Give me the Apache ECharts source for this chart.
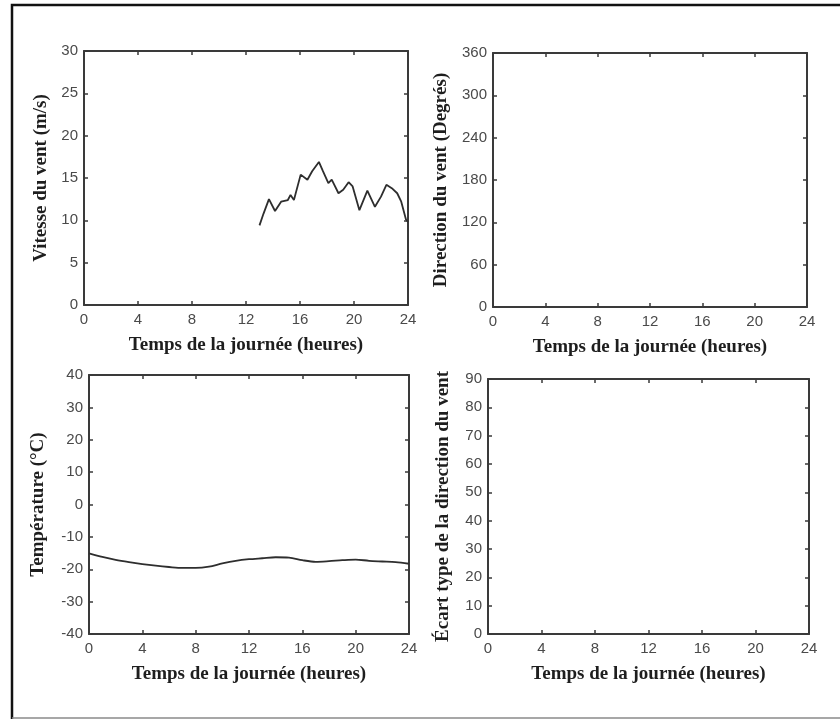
<!DOCTYPE html>
<html>
<head>
<meta charset="utf-8">
<script src="https://cdn.jsdelivr.net/npm/echarts@6/dist/echarts.min.js"></script>
<style>
html,body{margin:0;padding:0;background:#fff;}
#chart{width:840px;height:721px;}
</style>
</head>
<body>
<div id="chart"></div>
<script>
// ---- data ----
const hourTicks = [0, 4, 8, 12, 16, 20, 24];
const xTitle = 'Temps de la journée (heures)';

const windHours = [13.0, 13.3, 13.7, 14.15, 14.6, 15.1, 15.3, 15.55, 16.05, 16.55, 16.9, 17.4, 17.7, 18.1, 18.35, 18.85, 19.2, 19.6, 19.9, 20.4, 20.99, 21.55, 22.0, 22.4, 22.8, 23.2, 23.5, 23.85, 24.0];
const windSpeed = [9.4, 10.8, 12.5, 11.1, 12.2, 12.4, 13.0, 12.4, 15.4, 14.8, 15.8, 16.9, 15.8, 14.4, 14.8, 13.2, 13.6, 14.5, 14.0, 11.2, 13.5, 11.6, 12.8, 14.2, 13.8, 13.2, 12.2, 10.1, 9.8];

const tempHours = [0, 1, 2, 3, 4, 5, 6, 7, 8, 9, 10, 11, 12, 13, 14, 15, 16, 17, 18, 19, 20, 21, 22, 23, 24];
const temperature = [-15.1, -16.2, -17.1, -17.8, -18.4, -18.9, -19.3, -19.6, -19.6, -19.2, -18.2, -17.4, -16.9, -16.6, -16.3, -16.4, -17.2, -17.7, -17.5, -17.2, -17.0, -17.4, -17.6, -17.8, -18.3];

const dirHours = [];
const dirValues = [];
const stdHours = [];
const stdValues = [];

const panels = [
  {yTitle: 'Vitesse du vent (m/s)', yMin: 0, yMax: 30, yInt: 5, grid: {left: 84, top: 51, width: 324, height: 254}, yGap: 33},
  {yTitle: 'Direction du vent (Degrés)', yMin: 0, yMax: 360, yInt: 60, grid: {left: 493, top: 53, width: 314, height: 254}, yGap: 42},
  {yTitle: 'Température (°C)', yMin: -40, yMax: 40, yInt: 10, grid: {left: 89, top: 375, width: 320, height: 259}, yGap: 41},
  {yTitle: 'Écart type de la direction du vent', yMin: 0, yMax: 90, yInt: 10, grid: {left: 488, top: 379, width: 321, height: 255}, yGap: 35}
];

// ---- styles ----
const axisColor = '#3a3a3a';
const labelStyle = {color: '#4a4a4a', fontFamily: 'Liberation Sans', fontSize: 15};
const titleStyle = {color: '#1e1e1e', fontFamily: 'Liberation Serif', fontWeight: 'bold', fontSize: 19};

const grids = [], xAxes = [], yAxes = [];
panels.forEach((p, i) => {
  grids.push(Object.assign({containLabel: false}, p.grid));
  const common = {
    gridIndex: i,
    axisLine: {show: true, onZero: false, lineStyle: {color: axisColor, width: 2}},
    axisTick: {show: true, inside: true, length: 4, lineStyle: {color: axisColor, width: 1.5}},
    splitLine: {show: false}
  };
  xAxes.push(Object.assign({}, common, {
    type: 'value', position: 'bottom', min: 0, max: 24, interval: 4,
    axisLabel: Object.assign({margin: 7}, labelStyle),
    name: xTitle, nameLocation: 'middle', nameGap: 31, nameTextStyle: titleStyle
  }));
  xAxes.push(Object.assign({}, common, {
    type: 'value', position: 'top', min: 0, max: 24, interval: 4,
    axisLabel: {show: false}
  }));
  yAxes.push(Object.assign({}, common, {
    type: 'value', position: 'left', min: p.yMin, max: p.yMax, interval: p.yInt,
    axisLabel: Object.assign({margin: 6}, labelStyle),
    name: p.yTitle, nameLocation: 'middle', nameGap: p.yGap, nameTextStyle: titleStyle
  }));
  yAxes.push(Object.assign({}, common, {
    type: 'value', position: 'right', min: p.yMin, max: p.yMax, interval: p.yInt,
    axisLabel: {show: false}
  }));
});

const lineStyle = {color: '#2e2e2e', width: 1.8};
const zip = (a, b) => a.map((v, k) => [v, b[k]]);

const series = [
  {type: 'line', xAxisIndex: 0, yAxisIndex: 0, data: zip(windHours, windSpeed), showSymbol: false, lineStyle: lineStyle},
  {type: 'line', xAxisIndex: 2, yAxisIndex: 2, data: zip(dirHours, dirValues), showSymbol: false, lineStyle: lineStyle},
  {type: 'line', xAxisIndex: 4, yAxisIndex: 4, data: zip(tempHours, temperature), showSymbol: false, smooth: 0.3, lineStyle: lineStyle},
  {type: 'line', xAxisIndex: 6, yAxisIndex: 6, data: zip(stdHours, stdValues), showSymbol: false, lineStyle: lineStyle}
];

const chart = echarts.init(document.getElementById('chart'), null, {renderer: 'canvas'});
chart.setOption({
  backgroundColor: '#ffffff',
  animation: false,
  grid: grids,
  xAxis: xAxes,
  yAxis: yAxes,
  series: series,
  graphic: [
    {type: 'polyline', shape: {points: [[12, 719], [12, 5], [850, 5]]}, style: {fill: 'none', stroke: '#111', lineWidth: 2.5}, silent: true, z: 100},
    {type: 'line', shape: {x1: 12, y1: 718, x2: 850, y2: 718}, style: {stroke: '#8a8a8a', lineWidth: 1.5}, silent: true, z: 100}
  ]
});
</script>
</body>
</html>
